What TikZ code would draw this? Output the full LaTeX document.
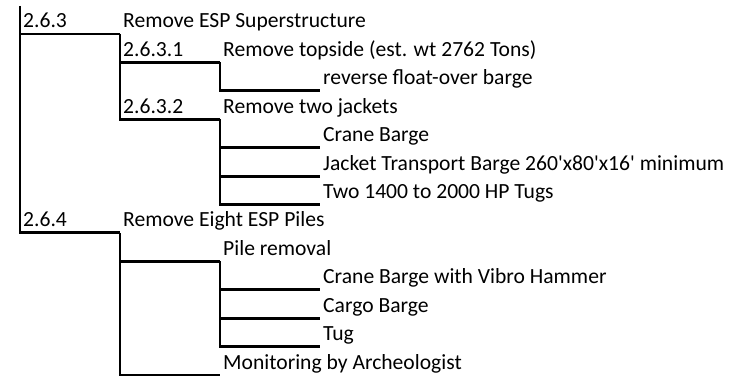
\documentclass[tikz,border=0pt]{standalone}
\usepackage{fontspec}
\setmainfont{Carlito}
\usetikzlibrary{calc}

\begin{document}
\begin{tikzpicture}[
  x=0.75pt, y=0.75pt, font=\fontsize{16.2}{19}\selectfont,
  cell/.style={anchor=south west, inner xsep=2.2pt, inner ysep=0pt, text depth=4.3pt},
  brd/.style={line width=2.2pt},
]
\useasboundingbox (0,0) rectangle (736,-381);

% ============================================================ 2.6.3
\coordinate (top) at (20,-6);
\node[cell] at (20,-34)    (n263)  {2.6.3};
\node[cell] at (120,-34)   (d263)  {Remove ESP Superstructure};
\node[cell] at (120,-62.4) (n2631) {2.6.3.1};
\node[cell] at (220,-62.4) (d2631) {Remove topside (est. wt 2762 Tons)};
\node[cell] at (320,-90.8) (rev)   {reverse float-over barge};
\node[cell] at (120,-119.3) (n2632) {2.6.3.2};
\node[cell] at (220,-119.3) (d2632) {Remove two jackets};
\node[cell] at (320,-147.7) (crane) {Crane Barge};
\node[cell] at (320,-176.1) (jtb)   {Jacket Transport Barge 260\textquotesingle x80\textquotesingle x16\textquotesingle{} minimum};
\node[cell] at (320,-204.5) (tugs)  {Two 1400 to 2000 HP Tugs};

% ============================================================ 2.6.4
\node[cell] at (20,-232.9)  (n264)  {2.6.4};
\node[cell] at (120,-232.9) (d264)  {Remove Eight ESP Piles};
\node[cell] at (220,-261.4) (pile)  {Pile removal};
\node[cell] at (320,-289.8) (vibro) {Crane Barge with Vibro Hammer};
\node[cell] at (320,-318.2) (cargo) {Cargo Barge};
\node[cell] at (320,-346.6) (tug)   {Tug};
\node[cell] at (220,-375)   (mon)   {Monitoring by Archeologist};

% ============================================================ borders
\draw[brd] (top) -- (top |- d264.south west) -- (d264.south west);
\draw[brd] (top |- d263.south west) -- (d263.south west);

\draw[brd] (d263.south west) -- (d263.south west |- d2632.south west) -- (d2632.south west);
\draw[brd] (d263.south west |- d2631.south west) -- (d2631.south west);
\draw[brd] (d2631.south west) -- (d2631.south west |- rev.south west) -- (rev.south west);
\draw[brd] (d2632.south west) -- (d2632.south west |- tugs.south west) -- (tugs.south west);
\draw[brd] (d2632.south west |- crane.south west) -- (crane.south west);
\draw[brd] (d2632.south west |- jtb.south west) -- (jtb.south west);

\draw[brd] (d264.south west) -- (d264.south west |- mon.south west) -- (mon.south west);
\draw[brd] (d264.south west |- pile.south west) -- (pile.south west);
\draw[brd] (pile.south west) -- (pile.south west |- tug.south west) -- (tug.south west);
\draw[brd] (pile.south west |- vibro.south west) -- (vibro.south west);
\draw[brd] (pile.south west |- cargo.south west) -- (cargo.south west);

\end{tikzpicture}
\end{document}
